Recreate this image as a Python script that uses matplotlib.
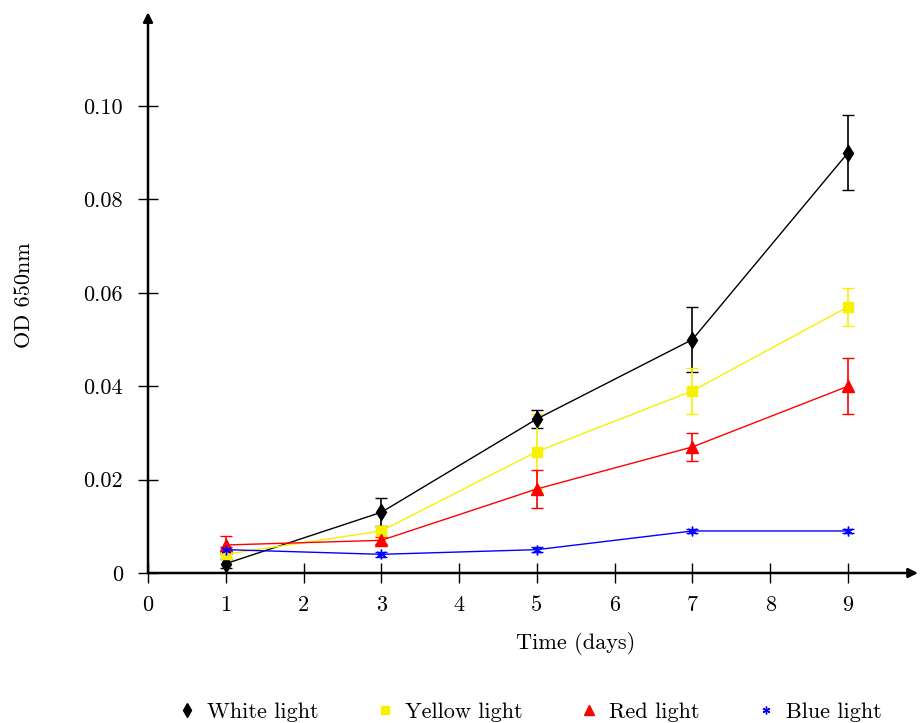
import matplotlib
matplotlib.use('Agg')
import matplotlib.pyplot as plt
from matplotlib.lines import Line2D

plt.rcParams['font.family'] = 'cmr10'
plt.rcParams['mathtext.fontset'] = 'cm'
plt.rcParams['axes.formatter.use_mathtext'] = True
plt.rcParams['font.size'] = 16

# data
days = [1, 3, 5, 7, 9]
white = [0.002, 0.013, 0.033, 0.050, 0.090]
white_err = [0.001, 0.003, 0.002, 0.007, 0.008]
yellow = [0.004, 0.009, 0.026, 0.039, 0.057]
yellow_err = [0.001, 0.001, 0.008, 0.005, 0.004]
red = [0.006, 0.007, 0.018, 0.027, 0.040]
red_err = [0.002, 0.0007, 0.004, 0.003, 0.006]
blue = [0.005, 0.004, 0.005, 0.009, 0.009]
blue_err = [0.0005, 0.0005, 0.0005, 0.0005, 0.0005]

labels = ['White light', 'Yellow light', 'Red light', 'Blue light']
xticks = [0, 1, 2, 3, 4, 5, 6, 7, 8, 9]
yticks = [0, 0.02, 0.04, 0.06, 0.08, 0.10]
ytick_labels = ['0', '0.02', '0.04', '0.06', '0.08', '0.10']

series = [
    (white, white_err, 'black', 'd', 8.5),
    (yellow, yellow_err, '#f7f000', 's', 7),
    (red, red_err, '#ff0000', '^', 8.5),
    (blue, blue_err, '#0000ff', (6, 2, 0), 7),
]

fig = plt.figure(figsize=(9.22, 7.23), dpi=100)
ax = fig.add_axes([148 / 922, 1 - 573 / 723, 770 / 922, 558 / 723])

handles = []
for (vals, err, col, mk, ms), lab in zip(series, labels):
    ax.errorbar(days, vals, yerr=err, color=col, ecolor=col, elinewidth=1.2,
                capsize=4.5, capthick=1.2, lw=1.0, marker=mk, ms=ms,
                mec=col, mfc=col, mew=1.0)
    handles.append(Line2D([], [], ls='none', marker=mk, color=col,
                          mfc=col, mec=col, ms=ms * 0.8, label=lab))

ax.set_xlim(0, 9.9)
ax.set_ylim(0, 0.1195)
ax.set_xticks(xticks)
ax.set_xticklabels([str(t) for t in xticks])
ax.set_yticks(yticks)
ax.set_yticklabels(ytick_labels)
ax.tick_params(direction='inout', length=15, width=1.0)
ax.tick_params(axis='x', pad=9)
ax.tick_params(axis='y', pad=10.5)

for s in ['top', 'right', 'left', 'bottom']:
    ax.spines[s].set_visible(False)

# axis lines with arrow heads
ax.annotate('', xy=(1, 0), xytext=(0, 0), xycoords='axes fraction',
            arrowprops=dict(arrowstyle='-|>', lw=1.8, color='black',
                            mutation_scale=14, shrinkA=0, shrinkB=0))
ax.annotate('', xy=(0, 1.005), xytext=(0, 0), xycoords='axes fraction',
            arrowprops=dict(arrowstyle='-|>', lw=1.8, color='black',
                            mutation_scale=14, shrinkA=0, shrinkB=0))

ax.set_xlabel('Time (days)')
ax.xaxis.set_label_coords(0.555, -0.106)
ax.set_ylabel('OD 650nm')
ax.yaxis.set_label_coords(-0.148, 0.498)

fig.legend(handles=handles, loc='center', bbox_to_anchor=(530 / 922, 1 - 712 / 723),
           ncol=4, frameon=False, handlelength=0.8, handletextpad=0.5,
           columnspacing=2.6, borderaxespad=0)

fig.savefig('out.png', dpi=100)
